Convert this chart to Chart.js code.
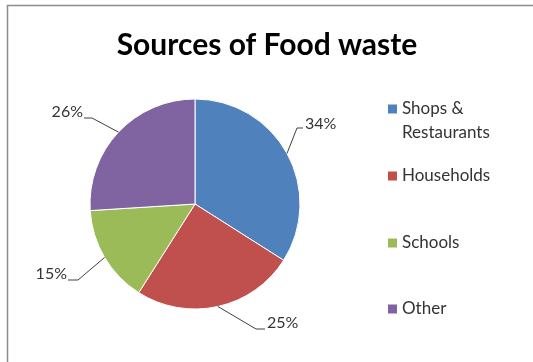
<!DOCTYPE html>
<html>
<head>
<meta charset="utf-8">
<script src="https://cdn.jsdelivr.net/npm/chart.js@4.4.1/dist/chart.umd.min.js"></script>
<style>
  body { margin: 0; background: #fff; }
  canvas { display: block; }
</style>
</head>
<body>
<canvas id="pie" width="533" height="362"></canvas>
<script>
// data
const categories = ['Shops & Restaurants', 'Households', 'Schools', 'Other'];
const shares = [34, 25, 15, 26];
const sliceColors = ['#4F81BD', '#C0504D', '#9BBB59', '#8064A2'];
const chartTitle = 'Sources of Food waste';

// where the callout text sits for each slice (elbow, line end, text anchor)
const callouts = [
  { ex: 297, ey: 128, hx: 303, tx: 305, ty: 124, align: 'left' },
  { ex: 256, ey: 329, hx: 265, tx: 267, ty: 323, align: 'left' },
  { ex: 78, ey: 280, hx: 68, tx: 67, ty: 274, align: 'right' },
  { ex: 92, ey: 118, hx: 84, tx: 83, ty: 112, align: 'right' }
];
const legendX = 388;
const legendY = [109, 176, 243, 309];
const FONT = 'Lato, "Open Sans", sans-serif';

const framePlugin = {
  id: 'frame',
  beforeDraw(chart) {
    const ctx = chart.ctx;
    ctx.save();
    ctx.fillStyle = '#fff';
    ctx.fillRect(0, 0, chart.width, chart.height);
    ctx.strokeStyle = '#8c8c8c';
    ctx.lineWidth = 1.5;
    ctx.beginPath();
    ctx.moveTo(7.5, chart.height);
    ctx.lineTo(7.5, 5.5);
    ctx.lineTo(chart.width, 5.5);
    ctx.stroke();
    ctx.restore();
  },
  afterDraw(chart) {
    const ctx = chart.ctx;
    ctx.save();
    // title
    ctx.fillStyle = '#000';
    ctx.font = 'bold 30px ' + FONT;
    ctx.textAlign = 'center';
    ctx.textBaseline = 'middle';
    ctx.fillText(chartTitle, 267, 45);

    // callouts
    const meta = chart.getDatasetMeta(0);
    const total = shares.reduce((a, b) => a + b, 0);
    ctx.strokeStyle = '#404040';
    ctx.lineWidth = 1;
    ctx.fillStyle = '#333';
    ctx.font = '16px ' + FONT;
    meta.data.forEach((arc, i) => {
      const p = arc.getProps(['x', 'y', 'startAngle', 'endAngle', 'outerRadius'], true);
      const mid = (p.startAngle + p.endAngle) / 2;
      const sx = p.x + Math.cos(mid) * p.outerRadius;
      const sy = p.y + Math.sin(mid) * p.outerRadius;
      const c = callouts[i];
      ctx.beginPath();
      ctx.moveTo(sx, sy);
      ctx.lineTo(c.ex, c.ey);
      ctx.lineTo(c.hx, c.ey);
      ctx.stroke();
      ctx.textAlign = c.align;
      ctx.fillText(Math.round(shares[i] / total * 100) + '%', c.tx, c.ty);
    });

    // legend
    ctx.font = '17px ' + FONT;
    ctx.textAlign = 'left';
    categories.forEach((name, i) => {
      ctx.fillStyle = sliceColors[i];
      ctx.fillRect(legendX, legendY[i] - 4.5, 9, 9);
      const words = name.split(' ');
      const lines = [];
      let cur = '';
      words.forEach(w => {
        const t = cur ? cur + ' ' + w : w;
        if (ctx.measureText(t).width > 100 && cur) { lines.push(cur); cur = w; }
        else cur = t;
      });
      lines.push(cur);
      ctx.fillStyle = '#333';
      lines.forEach((ln, k) => ctx.fillText(ln, legendX + 14, legendY[i] + k * 24));
    });
    ctx.restore();
  }
};

new Chart(document.getElementById('pie'), {
  type: 'pie',
  data: {
    labels: categories,
    datasets: [{
      data: shares,
      backgroundColor: sliceColors,
      borderColor: '#ffffff',
      borderWidth: 1,
      radius: 105
    }]
  },
  options: {
    responsive: false,
    animation: false,
    events: [],
    layout: { padding: { left: 90, right: 233, top: 99, bottom: 53 } },
    plugins: {
      legend: { display: false },
      title: { display: false },
      tooltip: { enabled: false }
    }
  },
  plugins: [framePlugin]
});
</script>
</body>
</html>
